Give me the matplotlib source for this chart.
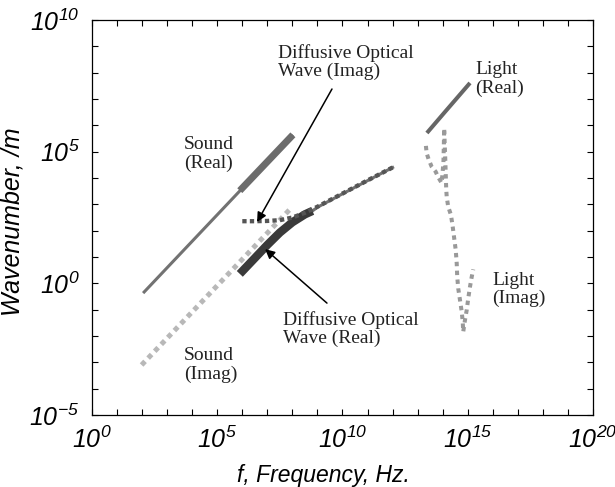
import matplotlib
matplotlib.use('Agg')
import matplotlib.pyplot as plt
import numpy as np
from matplotlib.ticker import FixedLocator, FuncFormatter, NullFormatter

plt.rcParams['font.family'] = ['Liberation Sans', 'DejaVu Sans']
plt.rcParams['mathtext.fontset'] = 'custom'
plt.rcParams['mathtext.rm'] = 'Liberation Sans:italic'
plt.rcParams['mathtext.it'] = 'Liberation Sans:italic'
plt.rcParams['mathtext.default'] = 'it'

# values, as exponents: log10(f / Hz), log10(k / m^-1)
sound_re_f = [2.04, 8.02]
sound_re_k = [-0.37, 5.64]
sound_re_thick_f = [5.9, 8.02]
sound_re_thick_k = [3.52, 5.64]

sound_im_f = [1.98, 7.9]
sound_im_k = [-3.10, 2.81]

diff_re_thick_f = [5.9, 6.5, 7.0, 7.5, 8.0, 8.5, 8.8]
diff_re_thick_k = [0.36, 0.96, 1.46, 1.93, 2.32, 2.62, 2.75]
diff_re_f = [8.8, 9.0, 10.0, 11.0, 12.0]
diff_re_k = [2.75, 2.89, 3.40, 3.90, 4.40]

diff_im_f = [6.0, 6.5, 7.0, 7.5, 8.0, 8.5, 9.0, 10.0, 11.0, 12.0]
diff_im_k = [2.36, 2.36, 2.37, 2.40, 2.50, 2.68, 2.91, 3.41, 3.91, 4.40]

light_re_f = [13.37, 14.1, 15.09]
light_re_k = [5.71, 6.52, 7.61]

light_im_f = [13.33, 13.36, 13.45, 13.56, 13.72, 13.81, 13.96, 14.03, 14.06,
              14.08, 14.10, 14.12, 14.14, 14.16, 14.22, 14.33, 14.40, 14.46,
              14.52, 14.56, 14.58, 14.62, 14.69, 14.76, 14.80, 14.82, 14.89,
              14.96, 15.02, 15.09, 15.16, 15.22]
light_im_k = [5.22, 4.94, 4.68, 4.43, 4.24, 4.05, 3.81, 4.60, 5.89,
              5.30, 4.80, 4.20, 3.60, 3.29, 2.91, 2.60, 2.15, 1.71,
              1.27, 0.76, 0.25, -0.19, -0.63, -1.08, -1.46, -1.84, -1.39,
              -1.01, -0.57, -0.13, 0.25, 0.53]

x_ticks = [0, 5, 10, 15, 20]
y_ticks = [-5, 0, 5, 10]

def p(a):
    return 10.0 ** np.array(a)

fig = plt.figure(figsize=(6.15, 4.87), dpi=100)
ax = fig.add_axes([0.1496, 0.1478, 0.8146, 0.8111])

ax.plot(p(sound_re_f), p(sound_re_k), color='#727272', lw=2.2, solid_capstyle='butt')
ax.plot(p(sound_re_thick_f), p(sound_re_thick_k), color='#6c6c6c', lw=5, solid_capstyle='butt')
ax.plot(p(sound_im_f), p(sound_im_k), color='#b8b8b8', lw=3.6, ls=(0, (1.0, 0.9)))

ax.plot(p(diff_re_f), p(diff_re_k), color='#707070', lw=2.2)
ax.plot(p(diff_re_thick_f), p(diff_re_thick_k), color='#3a3a3a', lw=6, solid_capstyle='butt')
ax.plot(p(diff_im_f), p(diff_im_k), color='#555555', lw=3.1, ls=(0, (1.0, 0.75)))

ax.plot(p(light_re_f), p(light_re_k), color='#666666', lw=2.9, solid_capstyle='butt')
ax.plot(p(light_im_f), p(light_im_k), color='#999999', lw=2.9, ls=(0, (1.1, 1.1)))

ax.set_xscale('log')
ax.set_yscale('log')
ax.set_xlim(1e0, 1e20)
ax.set_ylim(1e-5, 1e10)

fmt = FuncFormatter(lambda v, pos: r'$10^{%d}$' % round(np.log10(v)))
ax.xaxis.set_major_locator(FixedLocator(p(x_ticks)))
ax.yaxis.set_major_locator(FixedLocator(p(y_ticks)))
ax.xaxis.set_minor_locator(FixedLocator(p(np.arange(0, 21))))
ax.yaxis.set_minor_locator(FixedLocator(p(np.arange(-5, 11))))
ax.xaxis.set_major_formatter(fmt)
ax.yaxis.set_major_formatter(fmt)
ax.xaxis.set_minor_formatter(NullFormatter())
ax.yaxis.set_minor_formatter(NullFormatter())
ax.tick_params(which='both', direction='in', top=True, right=True, length=4, width=0.8)
ax.tick_params(axis='x', which='major', labelsize=18, pad=8)
ax.tick_params(axis='y', which='major', labelsize=18, pad=9)
for s in ax.spines.values():
    s.set_linewidth(0.9)

ax.set_xlabel('f, Frequency, Hz.', fontsize=16.5, style='italic')
ax.set_ylabel('Wavenumber, /m', fontsize=18, style='italic')
ax.xaxis.set_label_coords(0.462, -0.125)
ax.yaxis.set_label_coords(-0.135, 0.49)

tkw = dict(family='Liberation Serif', fontsize=14, color='#222222',
           ha='left', va='center', linespacing=1.1)
ax.text(10**3.67, 10**4.91, 'Sound\n(Real)', **tkw)
ax.text(10**3.67, 10**-3.10, 'Sound\n(Imag)', **tkw)
ax.text(10**7.43, 10**8.41, 'Diffusive Optical\nWave (Imag)', **tkw)
ax.text(10**7.62, 10**-1.73, 'Diffusive Optical\nWave (Real)', **tkw)
ax.text(10**15.29, 10**7.76, 'Light\n(Real)', **tkw)
ax.text(10**15.97, 10**-0.23, 'Light\n(Imag)', **tkw)

akw = dict(arrowstyle='-|>', color='black', lw=1.1, mutation_scale=14, shrinkA=0, shrinkB=0)
ax.annotate('', xy=(10**6.59, 10**2.33), xytext=(10**9.58, 10**7.38), arrowprops=akw)
ax.annotate('', xy=(10**6.91, 10**1.30), xytext=(10**9.38, 10**-0.75), arrowprops=akw)

fig.savefig('out.png', dpi=100)
